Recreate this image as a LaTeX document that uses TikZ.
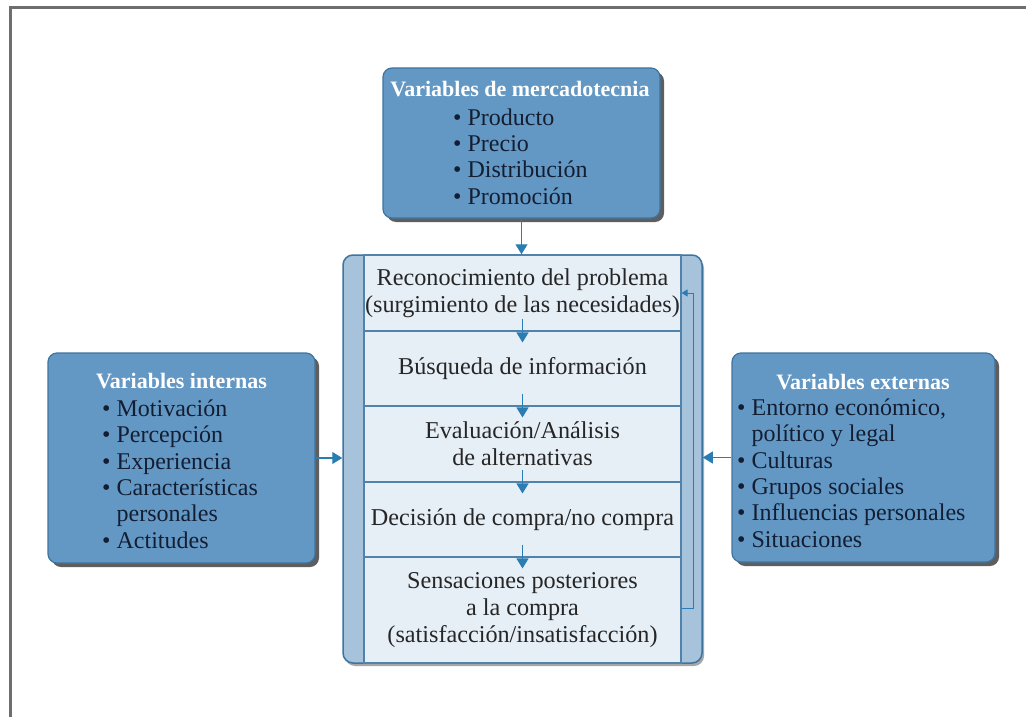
\documentclass[tikz,border=0pt]{standalone}
\usepackage{fontspec}
\setmainfont{Liberation Serif}
\usetikzlibrary{arrows.meta,shadows}
\definecolor{boxblue}{HTML}{6498C4}
\definecolor{boxedge}{HTML}{3E74A0}
\definecolor{strip}{HTML}{A7C2DB}
\definecolor{inner}{HTML}{E6EEF6}
\definecolor{arrowc}{HTML}{2A7DB3}
\definecolor{navy}{HTML}{131E33}
\definecolor{framec}{HTML}{6E6E6E}
\definecolor{maintext}{HTML}{262626}
\begin{document}
\begin{tikzpicture}[x=1pt,y=1pt,
  varbox/.style={draw=boxedge, line width=1.2pt, fill=boxblue, rounded corners=9pt,
    drop shadow={shadow xshift=4pt, shadow yshift=-4pt, fill=black!70, opacity=0.9}, inner sep=0pt},
  ttl/.style={text=white, font=\fontsize{22}{26}\selectfont\bfseries, inner sep=0pt},
  itm/.style={text=navy, font=\fontsize{24}{26.4}\selectfont, align=left, inner sep=0pt},
  rowbox/.style={draw=boxedge!90, line width=1.1pt, fill=inner, minimum width=317pt,
    text=maintext, font=\fontsize{24.2}{27}\selectfont, align=center, inner sep=0pt},
  arr/.style={draw=arrowc, line width=1.2pt, -{Triangle[width=12pt,length=10pt]}},
  fbarr/.style={draw=arrowc, line width=1pt, -{Triangle[width=7pt,length=6pt]}}]
\useasboundingbox (0,0) rectangle (1026,-717);
\draw[framec, line width=3pt] (10.5,-717) -- (10.5,-7.5) -- (1026,-7.5);

% top box
\node[varbox, minimum width=277pt, minimum height=150pt] (mkt) at (521.5,-143) {};
\node[ttl] (mktt) at (520,-89) {Variables de mercadotecnia};
\node[itm, anchor=west] (mkti) at (453,-156.5) {• Producto\\• Precio\\• Distribución\\• Promoción};

% main box
\node[draw=boxedge, line width=1.5pt, fill=strip, rounded corners=10pt,
  minimum width=359pt, minimum height=408pt,
  drop shadow={shadow xshift=2pt, shadow yshift=-3pt, fill=black!50, opacity=0.7}] (main) at (522.5,-459) {};
\node[rowbox, minimum height=76pt] (r1) at (522.5,-293) {Reconocimiento del problema\\(surgimiento de las necesidades)};
\node[rowbox, minimum height=75pt] (r2) at (522.5,-368.5) {Búsqueda de información};
\node[rowbox, minimum height=76pt] (r3) at (522.5,-444) {Evaluación/Análisis\\de alternativas};
\node[rowbox, minimum height=75pt] (r4) at (522.5,-519.5) {Decisión de compra/no compra};
\node[rowbox, minimum height=106pt] (r5) at (522.5,-610) {Sensaciones posteriores\\a la compra\\(satisfacción/insatisfacción)};

\draw[arr] ([yshift=13pt]r1.south) -- ([yshift=-12pt]r2.north);
\draw[arr] ([yshift=13pt]r2.south) -- ([yshift=-12pt]r3.north);
\draw[arr] ([yshift=13pt]r3.south) -- ([yshift=-12pt]r4.north);
\draw[arr] ([yshift=13pt]r4.south) -- ([yshift=-12pt]r5.north);

\coordinate (fb1) at (693,-608);
\coordinate (fb2) at (693,-293);
\draw[fbarr] (r5.east |- fb1) -- (fb1) -- (fb2) -- (r1.east |- fb2);

% left box
\node[varbox, minimum width=267pt, minimum height=210pt] (int) at (181.5,-458) {};
\node[ttl] (intt) at (181.5,-381) {Variables internas};
\node[itm, anchor=west] (inti) at (102,-474) {• Motivación\\• Percepción\\• Experiencia\\• Características\\\phantom{• }personales\\• Actitudes};

% right box
\node[varbox, minimum width=263pt, minimum height=209pt] (ext) at (863.5,-457.5) {};
\node[ttl] (extt) at (863,-382) {Variables externas};
\node[itm, anchor=west] (exti) at (737,-473) {• Entorno económico,\\\phantom{• }político y legal\\• Culturas\\• Grupos sociales\\• Influencias personales\\• Situaciones};

% connectors
\draw[arr] (mkt.south) -- (mkt.south |- main.north);
\draw[arr] (int.east) -- (int.east -| main.west);
\draw[arr] (ext.west) -- (ext.west -| main.east);
\end{tikzpicture}
\end{document}
